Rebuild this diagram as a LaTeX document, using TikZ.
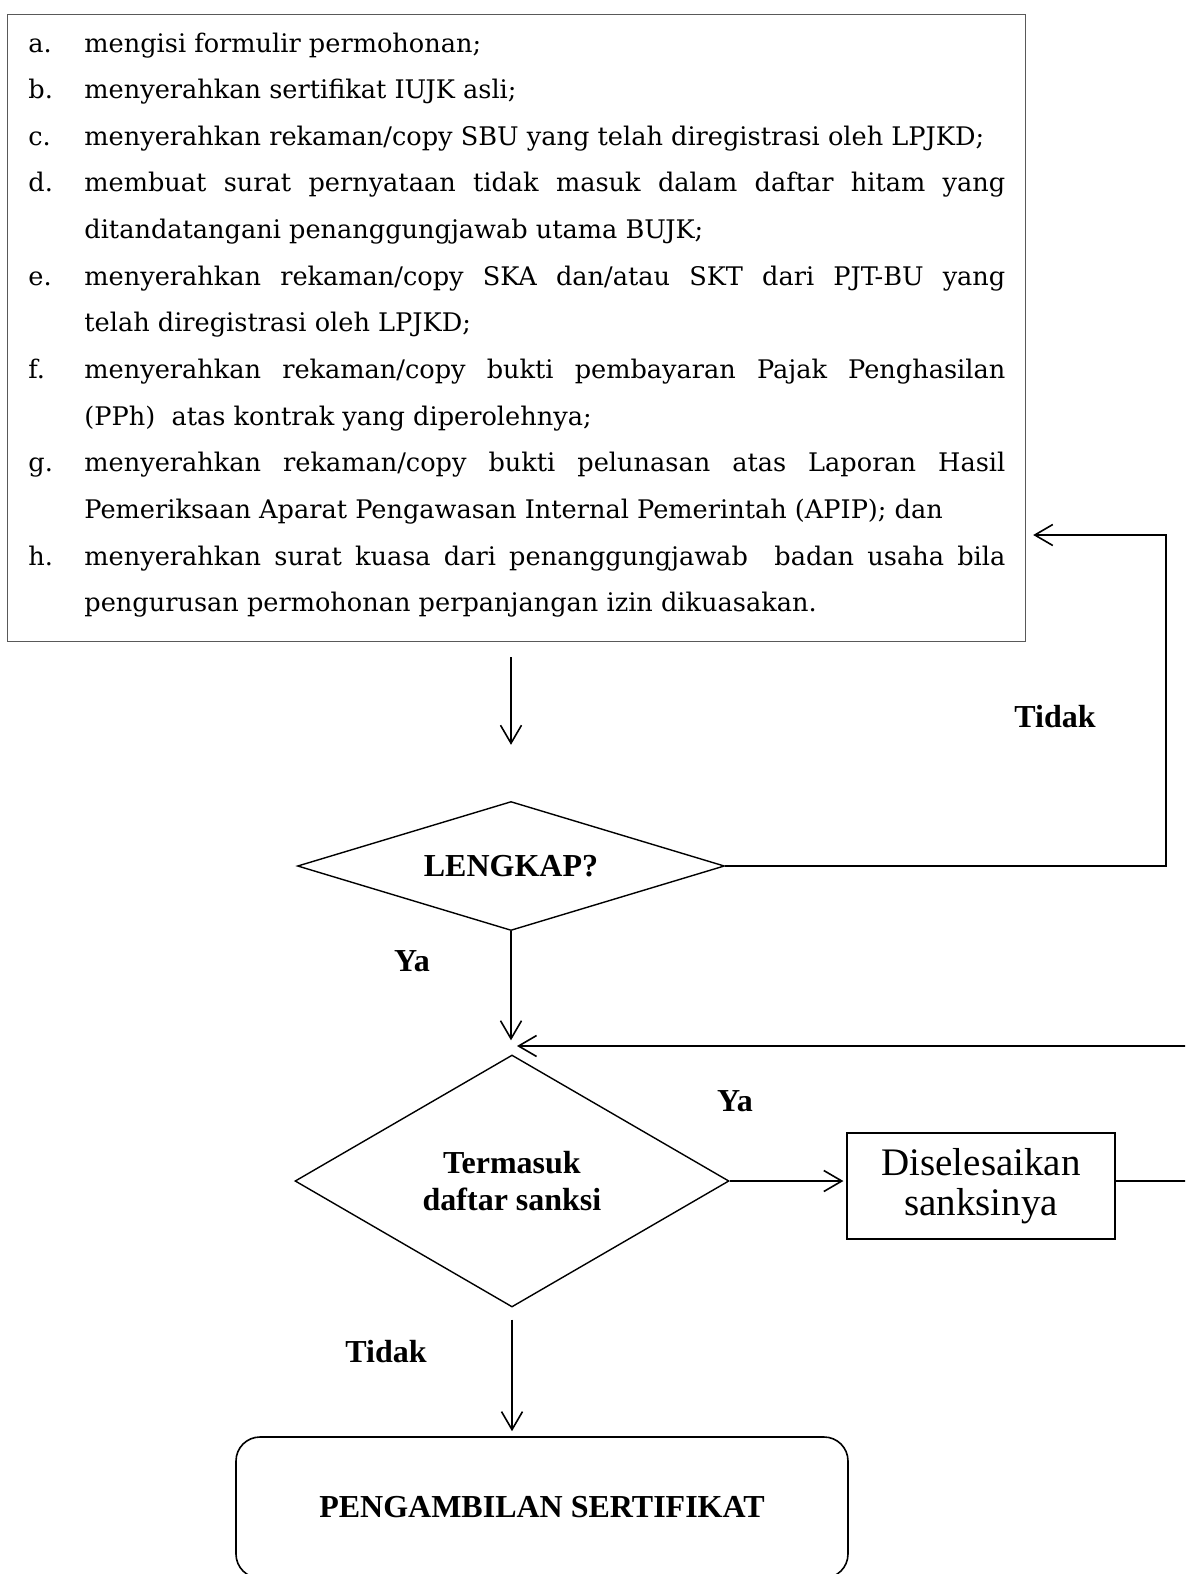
\documentclass[tikz,border=0pt]{standalone}
\usepackage{fontspec}
\setmainfont{Liberation Serif}
\newfontfamily\listfont{DejaVu Serif}
\usetikzlibrary{shapes.geometric, arrows.meta}

\newlength\pxl
\setlength\pxl{0.5pt}
\newcommand\lbl[1]{\makebox[56\pxl][l]{#1}}
\newcommand\jline[1]{\makebox[921\pxl][s]{#1}}

\tikzset{
	decision/.style={draw, diamond, inner sep=0pt, line width=0.7pt, align=center, font=\bfseries\fontsize{16}{18.5}\selectfont},
	answer/.style={font=\bfseries\fontsize{16}{18.5}\selectfont},
	flowline/.style={line width=0.8pt},
	flowarrow/.style={flowline, -{Straight Barb[length=9pt, width=10.5pt]}},
}

\begin{document}
\begin{tikzpicture}[x=0.5pt, y=-0.5pt]
	\useasboundingbox (0,0) rectangle (1185,1574);
	\clip (0,0) rectangle (1185,1574);

	\node[draw=black!65, line width=0.6pt, minimum width=1018\pxl, minimum height=627\pxl, anchor=north west, inner sep=0pt] (syarat) at (7,14) {};
	\node[anchor=base west, inner sep=0pt] (butir) at (28,52) {\parbox[t]{977\pxl}{\listfont\fontsize{12.8}{23.33}\selectfont
		\lbl{a.}mengisi formulir permohonan;\par
		\lbl{b.}menyerahkan sertifikat IUJK asli;\par
		\lbl{c.}menyerahkan rekaman/copy SBU yang telah diregistrasi oleh LPJKD;\par
		\lbl{d.}\jline{membuat surat pernyataan tidak masuk dalam daftar hitam yang}\par
		\lbl{}ditandatangani penanggungjawab utama BUJK;\par
		\lbl{e.}\jline{menyerahkan rekaman/copy SKA dan/atau SKT dari PJT-BU yang}\par
		\lbl{}telah diregistrasi oleh LPJKD;\par
		\lbl{f.}\jline{menyerahkan rekaman/copy bukti pembayaran Pajak Penghasilan}\par
		\lbl{}(PPh)\ \ atas kontrak yang diperolehnya;\par
		\lbl{g.}\jline{menyerahkan rekaman/copy bukti pelunasan atas Laporan Hasil}\par
		\lbl{}Pemeriksaan Aparat Pengawasan Internal Pemerintah (APIP); dan\par
		\lbl{h.}\jline{menyerahkan surat kuasa dari penanggungjawab\ \ badan usaha bila}\par
		\lbl{}pengurusan permohonan perpanjangan izin dikuasakan.}};

	\node[decision, aspect=3.3, minimum width=427\pxl, minimum height=129\pxl] (lengkap) at (511,866) {LENGKAP?};
	\node[decision, aspect=1.7, minimum width=434\pxl, minimum height=252\pxl] (sanksi) at (512,1181) {Termasuk\\daftar sanksi};
	\node[draw, line width=0.6pt, minimum width=268\pxl, minimum height=106\pxl, align=center, font=\fontsize{19.5}{20}\selectfont] (selesai) at (981,1186) {Diselesaikan\\sanksinya};
	\node[draw, line width=0.8pt, rounded corners=12pt, minimum width=612\pxl, minimum height=141\pxl, answer] (ambil) at (542,1507.5) {PENGAMBILAN SERTIFIKAT};

	\node[answer] (tidak1) at (1055,717) {Tidak};
	\node[answer] (ya1) at (412,961) {Ya};
	\node[answer] (ya2) at (735,1101) {Ya};
	\node[answer] (tidak2) at (386,1352) {Tidak};

	\coordinate (balik) at (1166,535);
	\coordinate (putar) at (1200,1046);

	\draw[flowarrow, shorten <=15\pxl, shorten >=56\pxl] (syarat.south -| lengkap.north) -- (lengkap.north);
	\draw[flowarrow] (lengkap.east) -| (balik) -- ([xshift=7\pxl]balik -| syarat.east);
	\draw[flowarrow, shorten >=14\pxl] (lengkap.south) -- (lengkap.south |- sanksi.north);
	\draw[flowarrow, shorten >=3\pxl] (sanksi.east) -- (sanksi.east -| selesai.west);
	\draw[flowarrow] (sanksi.east -| selesai.east) -| (putar) -- ([xshift=5\pxl]putar -| sanksi.north);
	\draw[flowarrow, shorten <=12\pxl, shorten >=5\pxl] (sanksi.south) -- (sanksi.south |- ambil.north);
\end{tikzpicture}
\end{document}
